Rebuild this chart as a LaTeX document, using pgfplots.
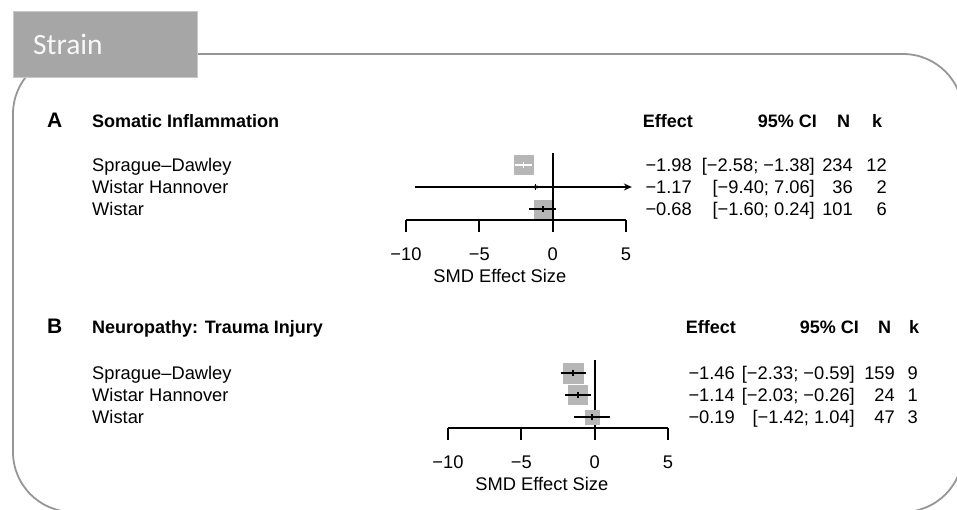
\documentclass[border=0pt]{standalone}
\usepackage{fontspec}
\setmainfont{Liberation Sans}
\newfontfamily\calibri{Carlito}
\usepackage{pgfplots}
\pgfplotsset{compat=1.18}
\usetikzlibrary{arrows.meta}
\definecolor{boxgray}{RGB}{182,182,182}
\definecolor{framegray}{RGB}{150,150,150}
\definecolor{tabgray}{RGB}{166,166,166}
\definecolor{tabedge}{RGB}{200,200,200}
\newcommand{\fs}{\fontsize{18.3}{22}\selectfont}
\newcommand{\fb}{\bfseries\fontsize{18}{22}\selectfont}
\pgfplotsset{
  forest/.style={
    scale only axis, width=220pt, clip=false, clip mode=individual,
    xmin=-10, xmax=5,
    axis x line*=bottom, axis y line=none,
    axis line style={-, line width=1.9pt, black},
    xtick={-10,-5,0,5}, xticklabels={−10,−5,0,5},
    xtick align=outside, major tick length=12pt,
    every tick/.style={black, line width=1.9pt},
    xticklabel style={font=\fs, anchor=base, inner sep=0pt, yshift=-28.5pt},
    anchor=south west,
  },
  zero/.style={black, line width=1.9pt, no markers},
  box/.style={only marks, mark=square*, boxgray, line width=0.1pt},
  ci/.style={black, line width=1.9pt, no markers},
  mean/.style={only marks, mark=|, mark size=3pt, line width=1.7pt},
}
\begin{document}
\begin{tikzpicture}[x=1pt, y=1pt, every node/.style={inner sep=0pt}]
\useasboundingbox (0,0) rectangle (957,509);
% frame
\draw[framegray, line width=1.8pt, rounded corners=60pt] (13,-3) rectangle (963,455);
% tab
\fill[tabgray] (13,431) rectangle (197,497);
\draw[tabedge, line width=1pt] (13,431) rectangle (197,497);
\node[anchor=base west, text=white!94!gray, font=\calibri\fontsize{29.5}{32}\selectfont] at (33,454) {Strain};

% ---------- Panel A ----------
\node[anchor=base west, font=\bfseries\fontsize{21}{24}\selectfont] at (47,381) {A};
\node[anchor=base west, font=\fb] at (92,381) {Somatic Inflammation};
\node[anchor=base east, font=\fb] at (693,381.5) {Effect};
\node[anchor=base east, font=\fb] at (817,381.5) {95\% CI};
\node[anchor=base west, font=\fb] at (837,381.5) {N};
\node[anchor=base west, font=\fb] at (872,381.5) {k};

\node[anchor=base west, font=\fs] at (92,337.5) {Sprague–Dawley};
\node[anchor=base west, font=\fs] at (92,315.5) {Wistar Hannover};
\node[anchor=base west, font=\fs] at (92,293.5) {Wistar};

\node[anchor=base east, font=\fs] at (692,337.5) {−1.98};
\node[anchor=base east, font=\fs] at (815,337.5) {[−2.58; −1.38]};
\node[anchor=base east, font=\fs] at (853,337.5) {234};
\node[anchor=base east, font=\fs] at (887,337.5) {12};
\node[anchor=base east, font=\fs] at (692,315.5) {−1.17};
\node[anchor=base east, font=\fs] at (815,315.5) {[−9.40; 7.06]};
\node[anchor=base east, font=\fs] at (853,315.5) {36};
\node[anchor=base east, font=\fs] at (887,315.5) {2};
\node[anchor=base east, font=\fs] at (692,293.5) {−0.68};
\node[anchor=base east, font=\fs] at (815,293.5) {[−1.60; 0.24]};
\node[anchor=base east, font=\fs] at (853,293.5) {101};
\node[anchor=base east, font=\fs] at (887,293.5) {6};

\begin{axis}[forest, at={(406pt,289pt)}, ymin=289, ymax=356, height=67pt]
\addplot[zero] coordinates {(0,289) (0,356)};
\addplot[box, mark size=9.5pt] coordinates {(-1.98,344)};
\addplot[ci, draw=white] coordinates {(-2.58,344) (-1.38,344)};
\addplot[mean, white] coordinates {(-1.98,344)};
\addplot[box, mark size=1.5pt] coordinates {(-1.17,322)};
\addplot[ci, -{Stealth[length=8pt,width=7pt]}] coordinates {(-9.40,322) (5.4,322)};
\addplot[mean, black] coordinates {(-1.17,322)};
\addplot[box, mark size=8.75pt] coordinates {(-0.68,300)};
\addplot[ci] coordinates {(-1.60,300) (0.24,300)};
\addplot[mean, black] coordinates {(-0.68,300)};
\node[anchor=base, font=\fs, yshift=-62.5pt] at (axis cs:-3.6,289) {SMD Effect Size};
\end{axis}

% ---------- Panel B ----------
\node[anchor=base west, font=\bfseries\fontsize{21}{24}\selectfont] at (47,176) {B};
\node[anchor=base west, font=\fb] at (92,176) {Neuropathy: Trauma Injury};
\node[anchor=base east, font=\fb] at (736,175.5) {Effect};
\node[anchor=base east, font=\fb] at (859,175.5) {95\% CI};
\node[anchor=base west, font=\fb] at (878,175.5) {N};
\node[anchor=base west, font=\fb] at (909,175.5) {k};

\node[anchor=base west, font=\fs] at (92,129.5) {Sprague–Dawley};
\node[anchor=base west, font=\fs] at (92,107.5) {Wistar Hannover};
\node[anchor=base west, font=\fs] at (92,85.5) {Wistar};

\node[anchor=base east, font=\fs] at (735,129.5) {−1.46};
\node[anchor=base east, font=\fs] at (855,129.5) {[−2.33; −0.59]};
\node[anchor=base east, font=\fs] at (895,129.5) {159};
\node[anchor=base east, font=\fs] at (918,129.5) {9};
\node[anchor=base east, font=\fs] at (735,107.5) {−1.14};
\node[anchor=base east, font=\fs] at (855,107.5) {[−2.03; −0.26]};
\node[anchor=base east, font=\fs] at (895,107.5) {24};
\node[anchor=base east, font=\fs] at (918,107.5) {1};
\node[anchor=base east, font=\fs] at (735,85.5) {−0.19};
\node[anchor=base east, font=\fs] at (855,85.5) {[−1.42; 1.04]};
\node[anchor=base east, font=\fs] at (895,85.5) {47};
\node[anchor=base east, font=\fs] at (918,85.5) {3};

\begin{axis}[forest, at={(448pt,81pt)}, ymin=81, ymax=149, height=68pt]
\addplot[zero] coordinates {(0,81) (0,149)};
\addplot[box, mark size=9.75pt] coordinates {(-1.46,136)};
\addplot[ci] coordinates {(-2.33,136) (-0.59,136)};
\addplot[mean, black] coordinates {(-1.46,136)};
\addplot[box, mark size=9.5pt] coordinates {(-1.14,114)};
\addplot[ci] coordinates {(-2.03,114) (-0.26,114)};
\addplot[mean, black] coordinates {(-1.14,114)};
\addplot[box, mark size=7pt] coordinates {(-0.19,92)};
\addplot[ci] coordinates {(-1.42,92) (1.04,92)};
\addplot[mean, black] coordinates {(-0.19,92)};
\node[anchor=base, font=\fs, yshift=-62.5pt] at (axis cs:-3.6,81) {SMD Effect Size};
\end{axis}
\end{tikzpicture}
\end{document}
